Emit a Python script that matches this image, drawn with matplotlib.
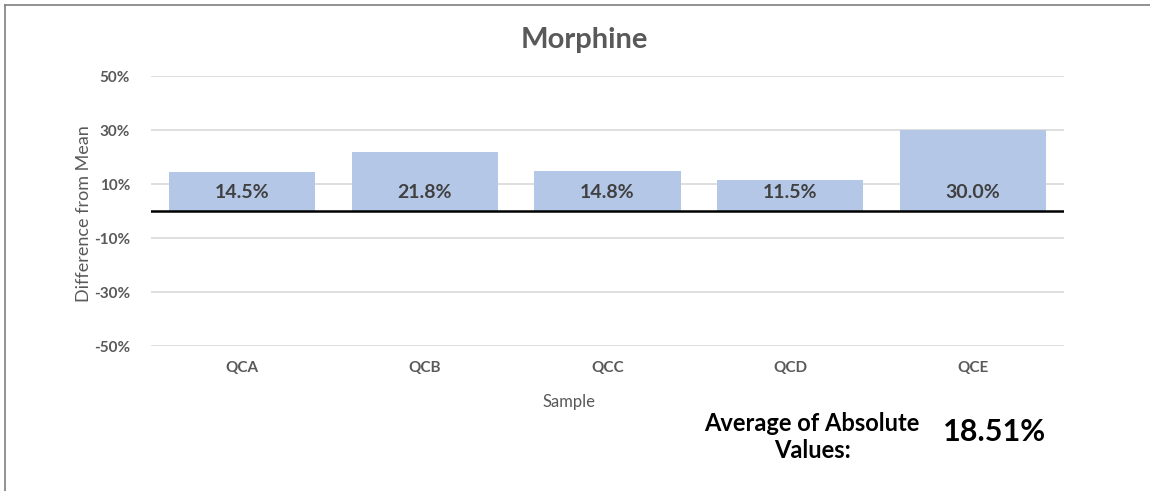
import matplotlib
matplotlib.use("Agg")
import matplotlib.pyplot as plt
from matplotlib.lines import Line2D
from matplotlib.ticker import FuncFormatter

plt.rcParams['font.family'] = ['Lato', 'DejaVu Sans']

# data
samples = ['QCA', 'QCB', 'QCC', 'QCD', 'QCE']
diff_from_mean = [0.145, 0.218, 0.148, 0.115, 0.300]
avg_abs = 0.1851
title = 'Morphine'

grey_text = '#595959'
bar_color = '#B4C7E7'
W, H = 1150, 491

fig = plt.figure(figsize=(11.5, 4.91), dpi=100)
ax = fig.add_axes([151 / W, 1 - 346 / H, 913 / W, 270 / H])

x = range(len(samples))
ax.bar(x, diff_from_mean, width=0.8, color=bar_color, zorder=2)

# value labels sit near the base of each bar
for xi, v in zip(x, diff_from_mean):
    ax.text(xi, 0.07, f'{v * 100:.1f}%', ha='center', va='center',
            fontsize=14, fontweight='bold', color='#404040', zorder=3)

ax.axhline(0, color='black', lw=1.8, zorder=3)

ax.set_xlim(-0.5, len(samples) - 0.5)
ax.set_ylim(-0.5, 0.5)
ax.set_yticks([-0.5, -0.3, -0.1, 0.1, 0.3, 0.5])
ax.yaxis.set_major_formatter(FuncFormatter(lambda v, p: f'{v * 100:.0f}%'))
ax.set_xticks(list(x))
ax.set_xticklabels(samples)
ax.grid(axis='y', color='#D9D9D9', lw=1.2, zorder=0)
ax.tick_params(axis='y', length=0, labelsize=11, colors=grey_text, pad=15)
ax.tick_params(axis='x', length=0, labelsize=11, colors=grey_text, pad=11)
for lbl in ax.get_xticklabels() + ax.get_yticklabels():
    lbl.set_fontweight('bold')
for s in ax.spines.values():
    s.set_visible(False)

fig.text(584 / W, 1 - 40 / H, title, ha='center', va='center',
         fontsize=21, fontweight='bold', color=grey_text)
fig.text(84 / W, 1 - 214 / H, 'Difference from Mean', rotation=90,
         ha='center', va='center', fontsize=13, color=grey_text)
fig.text(569 / W, 1 - 402 / H, 'Sample', ha='center', va='center',
         fontsize=12, color=grey_text)

fig.text(812 / W, 1 - 437 / H, 'Average of Absolute\nValues:', ha='center',
         va='center', fontsize=17, fontweight='bold', color='black',
         linespacing=1.2)
fig.text(995 / W, 1 - 432 / H, f'{avg_abs * 100:.2f}%', ha='center',
         va='center', fontsize=22, fontweight='bold', color='black')

# chart frame (left and top edges only visible)
fig.add_artist(Line2D([5 / W, 5 / W], [0, 1 - 5 / H],
                      transform=fig.transFigure, color='#7F7F7F', lw=1.2))
fig.add_artist(Line2D([5 / W, 1], [1 - 5 / H, 1 - 5 / H],
                      transform=fig.transFigure, color='#7F7F7F', lw=1.2))

fig.savefig('out.png', dpi=100)
